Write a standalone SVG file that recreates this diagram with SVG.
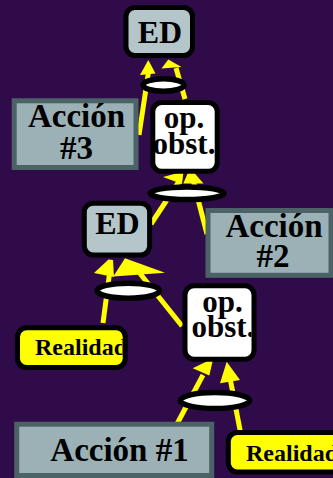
<svg xmlns="http://www.w3.org/2000/svg" width="333" height="478" viewBox="0 0 333 478">
  <style>
    .bg { fill: #300b4a; }
    .wire { stroke: #ffff00; stroke-width: 5; fill: none; }
    .head { fill: #ffff00; }
    .state { fill: #b4c6ca; stroke: #000; stroke-width: 5; }
    .op { fill: #ffffff; stroke: #000; stroke-width: 5; }
    .action { fill: #9bb1b5; stroke: #4b6266; stroke-width: 5; }
    .real { fill: #ffff00; stroke: #000; stroke-width: 5; }
    .join { fill: #ffffff; stroke: #000; stroke-width: 5.5; }
    text { font-family: "Liberation Serif", "Times New Roman", serif; font-weight: bold; fill: #000; }
    .big { font-size: 33px; text-anchor: middle; }
    .mid { font-size: 31px; text-anchor: middle; }
    .ed { font-size: 32px; text-anchor: middle; }
    .small { font-size: 24px; }
  </style>
  <defs>
    <clipPath id="clipReal1"><rect x="20" y="330" width="102.5" height="35"/></clipPath>
    <clipPath id="clipOp2"><rect x="187.5" y="288" width="64" height="69"/></clipPath>
  </defs>

  <rect class="bg" x="0" y="0" width="333" height="478"/>

  <!-- connectors -->
  <g id="connectors">
    <line class="wire" x1="139" y1="135" x2="148.5" y2="72"/>
    <polygon class="head" points="140,75 148.3,60 155.5,73.5"/>
    <line class="wire" x1="185" y1="99" x2="176" y2="68"/>
    <polygon class="head" points="161.5,68.5 168.3,59.5 181.5,67"/>

    <line class="wire" x1="151" y1="224" x2="180" y2="180"/>
    <polygon class="head" points="163,177 183.5,171.5 182,184"/>
    <line class="wire" x1="207" y1="234" x2="193" y2="180"/>
    <polygon class="head" points="183.3,183.5 190,168 203.5,183.5"/>

    <line class="wire" x1="103" y1="323" x2="110" y2="270"/>
    <polygon class="head" points="94,273 108.5,259.5 113,260 114,277"/>
    <line class="wire" x1="182" y1="326" x2="138" y2="271"/>
    <polygon class="head" points="113.3,276.5 125,258.3 165,272.7"/>

    <line class="wire" x1="177" y1="424" x2="203" y2="375"/>
    <polygon class="head" points="192.7,368.3 213.3,358.3 209.3,375.5"/>
    <line class="wire" x1="241" y1="435" x2="230" y2="378"/>
    <polygon class="head" points="220,383.3 226.7,361.7 240,380"/>
  </g>

  <!-- top state -->
  <g id="ed-top">
    <rect class="state" x="126" y="7.5" width="66.5" height="48" rx="9"/>
    <text class="ed" x="160" y="42.5">ED</text>
  </g>

  <g id="join-1">
    <ellipse class="join" cx="163.5" cy="85" rx="20.5" ry="6.3"/>
  </g>

  <g id="accion-3">
    <rect class="action" x="14.2" y="100.8" width="121.8" height="66.7"/>
    <text class="big" x="76.5" y="127">Acción</text>
    <text class="big" x="76.5" y="158.5">#3</text>
  </g>

  <g id="op-1">
    <rect class="op" x="152.8" y="102.5" width="64.4" height="68.8" rx="9"/>
    <text class="mid" x="184" y="127.5">op.</text>
    <text class="mid" x="184" y="153.5">obst.</text>
  </g>

  <g id="join-2">
    <ellipse class="join" cx="187" cy="193.3" rx="37" ry="6.3"/>
  </g>

  <g id="ed-mid">
    <rect class="state" x="84.3" y="203.2" width="65.3" height="51.8" rx="9"/>
    <text class="ed" x="117.5" y="233.5">ED</text>
  </g>

  <g id="accion-2">
    <rect class="action" x="208" y="210.5" width="123" height="64.8"/>
    <text class="big" x="274" y="237">Acción</text>
    <text class="big" x="273" y="267">#2</text>
  </g>

  <g id="join-3">
    <ellipse class="join" cx="128.3" cy="290.7" rx="31.3" ry="7.5"/>
  </g>

  <g id="op-2">
    <rect class="op" x="185" y="285.8" width="69" height="73.4" rx="9"/>
    <g clip-path="url(#clipOp2)">
      <text class="mid" x="222.5" y="311.7">op.</text>
      <text class="mid" x="223" y="336.7">obst.</text>
    </g>
  </g>

  <g id="realidad-1">
    <rect class="real" x="17.5" y="327.8" width="107.7" height="39.7" rx="9"/>
    <text class="small" x="35" y="355" clip-path="url(#clipReal1)">Realidad</text>
  </g>

  <g id="join-4">
    <ellipse class="join" cx="215" cy="400.5" rx="34.7" ry="8"/>
  </g>

  <g id="accion-1">
    <rect class="action" x="16.7" y="424.2" width="195" height="51.3"/>
    <text class="big" x="119.5" y="461">Acción #1</text>
  </g>

  <g id="realidad-2">
    <rect class="real" x="228.3" y="432.5" width="115" height="39.5" rx="9"/>
    <text class="small" x="246" y="460.5">Realidad</text>
  </g>
</svg>
